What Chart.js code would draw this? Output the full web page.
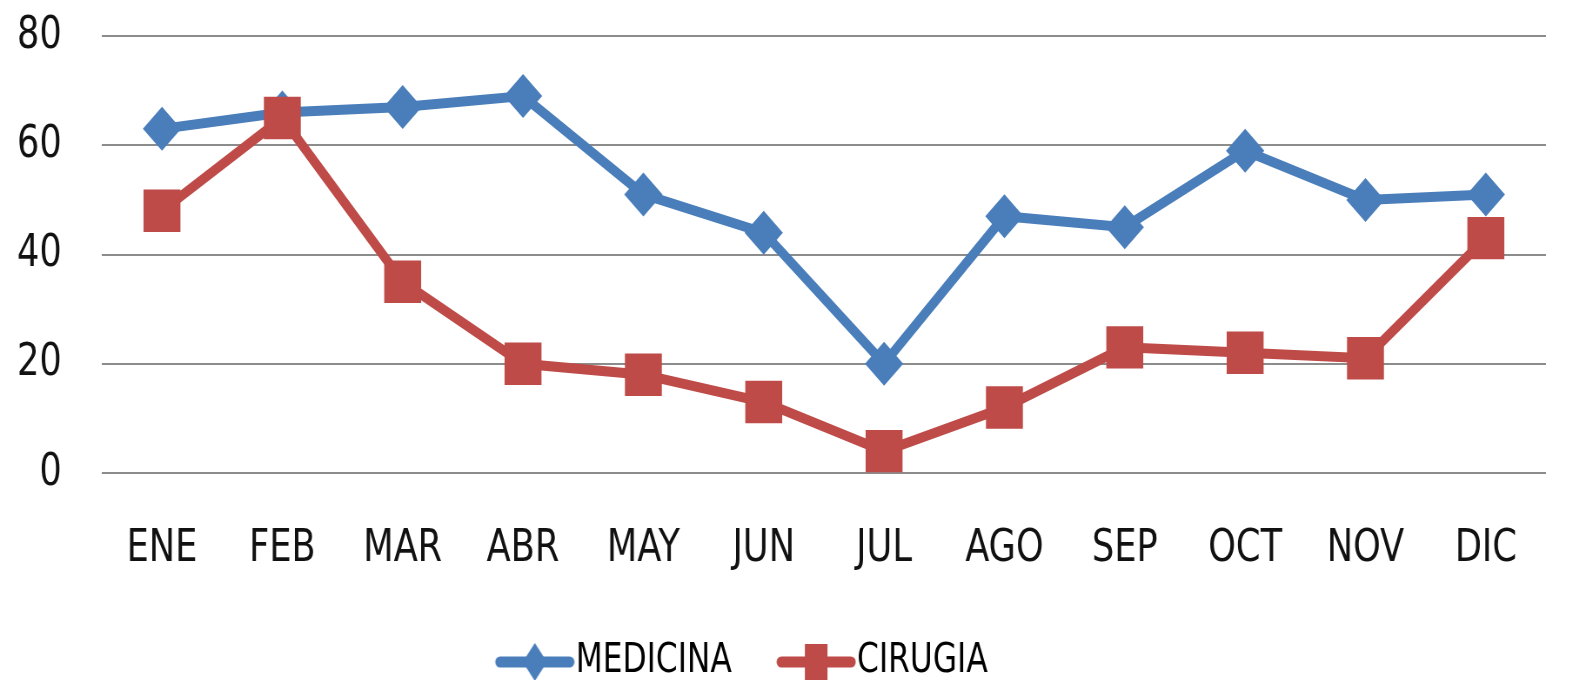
<!DOCTYPE html>
<html>
<head>
<meta charset="utf-8">
<script src="https://cdn.jsdelivr.net/npm/chart.js@4.4.1/dist/chart.umd.min.js"></script>
<style>
  html, body { margin: 0; padding: 0; background: #fff; overflow: hidden; }
  /* the original picture is squeezed sideways, so draw wider and squeeze */
  #wrap { width: 1807px; height: 680px; transform: scaleX(0.87); transform-origin: 0 0; }
</style>
</head>
<body>
<div id="wrap"><canvas id="chart" width="1807" height="680"></canvas></div>
<script>
const months = ['ENE', 'FEB', 'MAR', 'ABR', 'MAY', 'JUN', 'JUL', 'AGO', 'SEP', 'OCT', 'NOV', 'DIC'];
const medicina = [63, 66, 67, 69, 51, 44, 20, 47, 45, 59, 50, 51];
const cirugia = [48, 65, 35, 20, 18, 13, 4, 12, 23, 22, 21, 43];
const yTicks = [0, 20, 40, 60, 80];

const BLUE = '#4a7ebb';
const RED = '#be4b48';
const FONT = "'Liberation Sans Narrow', 'DejaVu Sans Condensed', sans-serif";

// legend icon: line with the marker on it (empty strip on the left pulls it toward the text)
function legendIcon(color, shape) {
  const shift = 18;
  const c = document.createElement('canvas');
  c.width = 92 + shift;
  c.height = 42;
  const ctx = c.getContext('2d');
  ctx.translate(shift, 0);
  ctx.strokeStyle = color;
  ctx.fillStyle = color;
  ctx.lineWidth = 11;
  ctx.lineCap = 'round';
  ctx.beginPath();
  ctx.moveTo(6, 21);
  ctx.lineTo(86, 21);
  ctx.stroke();
  if (shape === 'diamond') {
    ctx.beginPath();
    ctx.moveTo(46, 2);
    ctx.lineTo(60, 21);
    ctx.lineTo(46, 40);
    ctx.lineTo(32, 21);
    ctx.closePath();
    ctx.fill();
  } else {
    ctx.fillRect(33, 3, 26, 36);
  }
  return c;
}

const icons = [legendIcon(BLUE, 'diamond'), legendIcon(RED, 'square')];

// the legend in the original sits a bit left of centre
const shiftLegend = {
  id: 'shiftLegend',
  afterLayout(chart) {
    chart.legend.left -= 51;
    chart.legend.right -= 51;
  }
};

new Chart(document.getElementById('chart'), {
  type: 'line',
  data: {
    labels: months,
    datasets: [{
      label: 'MEDICINA',
      data: medicina,
      order: 1,
      borderColor: BLUE,
      backgroundColor: BLUE,
      borderWidth: 10,
      pointStyle: 'rectRot',
      pointRadius: 22,
      pointBorderWidth: 0,
      tension: 0
    }, {
      label: 'CIRUGIA',
      data: cirugia,
      order: 0, // red series drawn over the blue one
      borderColor: RED,
      backgroundColor: RED,
      borderWidth: 10,
      pointStyle: 'rect',
      pointRadius: 30,
      pointBorderWidth: 0,
      tension: 0
    }]
  },
  plugins: [shiftLegend],
  options: {
    responsive: false,
    animation: false,
    layout: { padding: { top: 36, right: 0, left: 0, bottom: -12 } },
    plugins: {
      tooltip: { enabled: false },
      legend: {
        position: 'bottom',
        labels: {
          usePointStyle: true,
          pointStyleWidth: 72,
          padding: 52,
          color: '#111',
          font: { family: FONT, size: 40 },
          generateLabels: chart => chart.data.datasets.map((ds, i) => ({
            text: ds.label,
            pointStyle: icons[i],
            fillStyle: ds.borderColor,
            strokeStyle: ds.borderColor,
            lineWidth: 0,
            hidden: false,
            datasetIndex: i
          }))
        }
      }
    },
    scales: {
      x: {
        offset: true,
        grid: { display: false, drawTicks: false },
        border: { display: false },
        afterFit: scale => { scale.height = 117; },
        ticks: { color: '#111', padding: 49, font: { family: FONT, size: 45 } }
      },
      y: {
        min: 0,
        max: 80,
        afterBuildTicks: scale => { scale.ticks = yTicks.map(v => ({ value: v })); },
        afterFit: scale => {
          scale.width = 117;
          scale.paddingTop = 0;
          scale.paddingBottom = 0;
        },
        grid: { color: '#8c8c8c', lineWidth: 2, drawTicks: false },
        border: { display: false },
        ticks: { color: '#111', padding: 46, font: { family: FONT, size: 45 } }
      }
    }
  }
});
</script>
</body>
</html>
